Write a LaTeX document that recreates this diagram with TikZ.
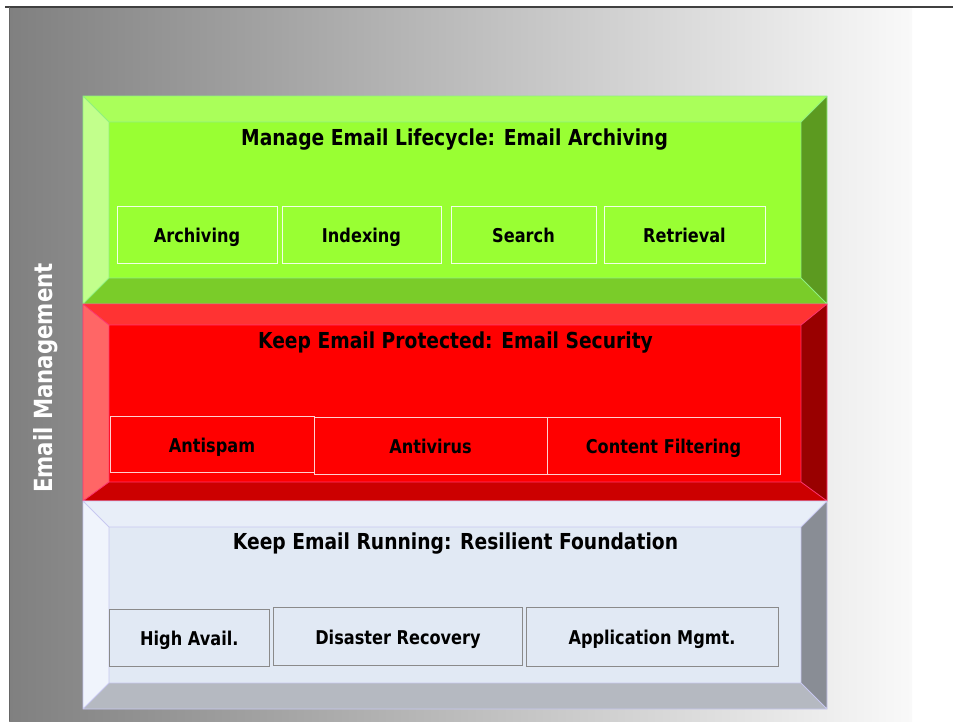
\documentclass[tikz,border=0pt]{standalone}
\usepackage{fontspec}
\setmainfont{DejaVu Sans}[FakeStretch=0.85]
\definecolor{bgL}{HTML}{808080}
\definecolor{bgM}{HTML}{C6C6C6}
\definecolor{bgR}{HTML}{F9F9F9}
\definecolor{gtopc}{HTML}{AAFF5A}
\definecolor{gleftc}{HTML}{C2FF8C}
\definecolor{gfrontc}{HTML}{99FF33}
\definecolor{gbotc}{HTML}{7ACC29}
\definecolor{grightc}{HTML}{5C9A20}
\definecolor{gedgec}{HTML}{8FEF80}
\definecolor{gsubc}{HTML}{F2FFE6}
\definecolor{rtopc}{HTML}{FF3333}
\definecolor{rleftc}{HTML}{FF6666}
\definecolor{rfrontc}{HTML}{FF0000}
\definecolor{rbotc}{HTML}{CC0000}
\definecolor{rrightc}{HTML}{990000}
\definecolor{redgec}{HTML}{FF3370}
\definecolor{rsubc}{HTML}{FFD0D0}
\definecolor{ytopc}{HTML}{E8EEF8}
\definecolor{yleftc}{HTML}{F0F4FC}
\definecolor{yfrontc}{HTML}{E1E9F4}
\definecolor{ybotc}{HTML}{B5B9C1}
\definecolor{yrightc}{HTML}{898D95}
\definecolor{yedgec}{HTML}{C8C8F0}
\definecolor{ysubc}{HTML}{8A8A8A}
\newcommand\layerbox[5]{%
  \fill[#1top] (83,#2) -- (827,#2) -- (801,#3) -- (109,#3) -- cycle;
  \fill[#1left] (83,#2) -- (109,#3) -- (109,#4) -- (83,#5) -- cycle;
  \fill[#1bot] (83,#5) -- (109,#4) -- (801,#4) -- (827,#5) -- cycle;
  \fill[#1right] (827,#2) -- (827,#5) -- (801,#4) -- (801,#3) -- cycle;
  \fill[#1front] (109,#3) rectangle (801,#4);
  \draw[#1edge] (83,#2) rectangle (827,#5) (109,#3) rectangle (801,#4)
    (83,#2) -- (109,#3) (827,#2) -- (801,#3) (83,#5) -- (109,#4) (827,#5) -- (801,#4);
}
\begin{document}
\begin{tikzpicture}[x=1pt,y=-1pt,
  gtop/.style={fill=gtopc}, gleft/.style={fill=gleftc}, gfront/.style={fill=gfrontc},
  gbot/.style={fill=gbotc}, gright/.style={fill=grightc}, gedge/.style={draw=gedgec, line width=0.8pt},
  rtop/.style={fill=rtopc}, rleft/.style={fill=rleftc}, rfront/.style={fill=rfrontc},
  rbot/.style={fill=rbotc}, rright/.style={fill=rrightc}, redge/.style={draw=redgec, line width=0.8pt},
  ytop/.style={fill=ytopc}, yleft/.style={fill=yleftc}, yfront/.style={fill=yfrontc},
  ybot/.style={fill=ybotc}, yright/.style={fill=yrightc}, yedge/.style={draw=yedgec, line width=0.8pt},
  titletext/.style={anchor=base, inner sep=0pt, font=\fontsize{22}{24}\selectfont\bfseries},
  sublabel/.style={inner sep=0pt, text height=16pt, text depth=0pt, font=\fontsize{19}{21}\selectfont\bfseries},
  gsub/.style={sublabel, draw=gsubc, line width=0.9pt},
  rsub/.style={sublabel, draw=rsubc, line width=0.9pt},
  ysub/.style={sublabel, draw=ysubc, line width=0.9pt},
]
\useasboundingbox (0,0) rectangle (953,721);
\fill[white] (0,0) rectangle (953,721);
\shade[left color=bgL, middle color=bgM, right color=bgR] (9,7) rectangle (912,721);
\draw[black!75, line width=1.2pt] (5,7) -- (953,7);
\draw[black!60, line width=0.8pt] (9,7) -- (9,721);

\node[rotate=90, anchor=base, inner sep=0pt, text=white, font=\fontsize{25}{27}\selectfont\bfseries] (vlabel) at (52,378) {Email Management};

% green layer
\layerbox{g}{96}{122}{278}{304}
\node[titletext] (gtitle) at (454.5,145) {Manage Email Lifecycle: Email Archiving};
\node[gsub, minimum width=160pt, minimum height=57pt] (arch) at (197,234.5) {Archiving};
\node[gsub, minimum width=159pt, minimum height=57pt] (index) at (361.5,234.5) {Indexing};
\node[gsub, minimum width=145pt, minimum height=57pt] (search) at (523.5,234.5) {Search};
\node[gsub, minimum width=161pt, minimum height=57pt] (retr) at (684.5,234.5) {Retrieval};

% red layer
\layerbox{r}{304}{325}{482}{501}
\node[titletext] (rtitle) at (455.5,348.3) {Keep Email Protected: Email Security};
\node[rsub, minimum width=204pt, minimum height=56pt] (spam) at (212,444) {Antispam};
\node[rsub, minimum width=233pt, minimum height=57pt] (virus) at (430.5,445.5) {Antivirus};
\node[rsub, minimum width=233pt, minimum height=57pt] (filter) at (663.5,445.5) {Content Filtering};

% gray layer
\layerbox{y}{501}{527}{683}{709}
\node[titletext] (ytitle) at (455.5,549.3) {Keep Email Running: Resilient Foundation};
\node[ysub, minimum width=160pt, minimum height=57pt] (ha) at (189.3,637.7) {High Avail.};
\node[ysub, minimum width=249.5pt, minimum height=58pt] (dr) at (398,636.2) {Disaster Recovery};
\node[ysub, minimum width=252pt, minimum height=59pt] (am) at (652,636.7) {Application Mgmt.};
\end{tikzpicture}
\end{document}
